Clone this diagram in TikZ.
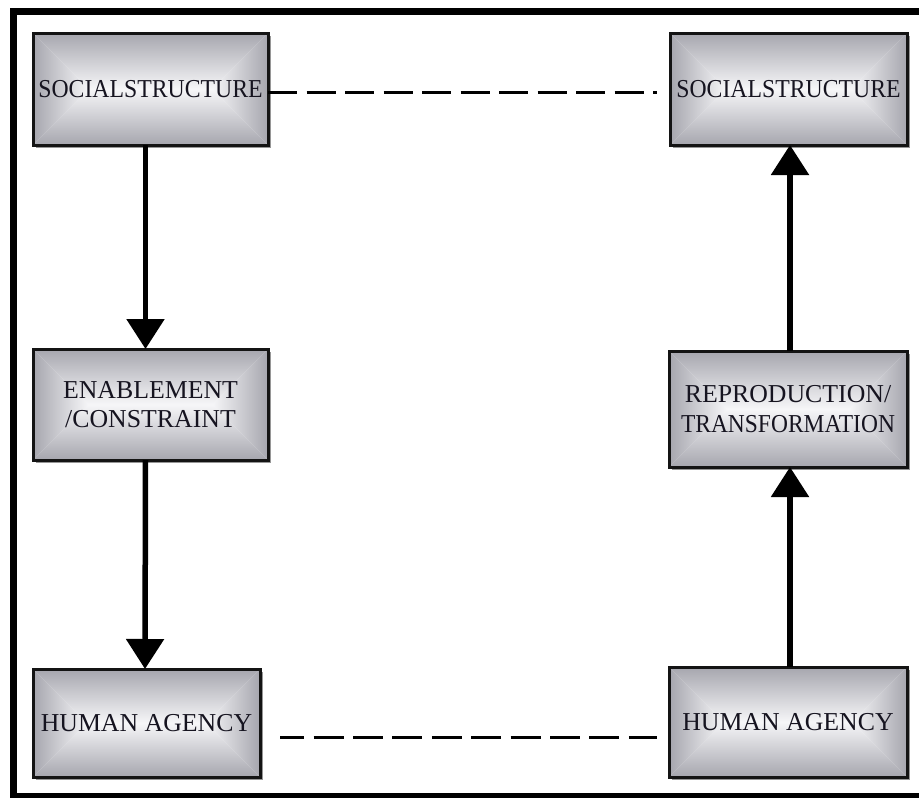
\documentclass[tikz,border=0pt]{standalone}
\usepackage{fontspec}
\setmainfont{Liberation Serif}
\usetikzlibrary{arrows.meta,calc,backgrounds}

\definecolor{boxedge}{RGB}{166,166,174}
\definecolor{boxmid}{RGB}{246,246,248}
\definecolor{boxline}{RGB}{20,20,20}
\definecolor{boxshadow}{RGB}{150,150,150}
\definecolor{labelink}{RGB}{22,20,32}

\tikzset{
  stagebox/.style={draw=boxline, line width=3pt, inner sep=0pt, outer sep=0pt,
    align=center, text=labelink, font=\fontsize{25.8}{29.5}\selectfont},
  flowarrow/.style={line width=5.5pt, -{Triangle[width=37pt,length=30pt]}},
  linkdash/.style={line width=3pt},
  frameline/.style={line width=7pt},
}

\begin{document}
\begin{tikzpicture}[x=1pt,y=-1pt]
  \useasboundingbox (0,0) rectangle (919,798);
  \clip (0,0) rectangle (919,798);

  % outer frame (its right side runs off the page)
  \draw[frameline] (13,11) rectangle (940,796);

  % the six stages
  \node[stagebox, minimum width=235pt, minimum height=112pt] (ssL) at (150.5,89)
    {\scalebox{0.92}[1]{SOCIALSTRUCTURE}};
  \node[stagebox, minimum width=237pt, minimum height=112pt] (ssR) at (788.5,89)
    {\scalebox{0.92}[1]{SOCIALSTRUCTURE}};
  \node[stagebox, minimum width=235pt, minimum height=111pt] (ec) at (150.5,404.5)
    {ENABLEMENT\\/CONSTRAINT};
  \node[stagebox, minimum width=238pt, minimum height=116pt] (rt) at (788,409)
    {REPRODUCTION/\\\scalebox{0.91}[1]{TRANSFORMATION}};
  \node[stagebox, minimum width=227pt, minimum height=108pt] (haL) at (146.5,723)
    {HUMAN AGENCY};
  \node[stagebox, minimum width=238pt, minimum height=110pt] (haR) at (788,722)
    {HUMAN AGENCY};

  % drop shadow and pyramid shading behind every stage
  \begin{pgfonlayer}{background}
    \foreach \nd in {ssL,ssR,ec,rt,haL,haR}{
      \fill[boxshadow] ([shift={(3pt,-3pt)}]\nd.north west) rectangle ([shift={(3pt,-3pt)}]\nd.south east);
      \fill[boxmid] (\nd.north west) rectangle (\nd.south east);
      \shade[top color=boxedge, bottom color=boxmid]
        let \p1=(\nd.north west), \p2=(\nd.south east), \n1={(\y1-\y2)/2} in
        (\x1,\y1) -- (\x2,\y1) -- (\x2-\n1,\y1-\n1) -- (\x1+\n1,\y1-\n1) -- cycle;
      \shade[top color=boxmid, bottom color=boxedge]
        let \p1=(\nd.north west), \p2=(\nd.south east), \n1={(\y1-\y2)/2} in
        (\x1,\y2) -- (\x2,\y2) -- (\x2-\n1,\y2+\n1) -- (\x1+\n1,\y2+\n1) -- cycle;
      \shade[left color=boxedge, right color=boxmid]
        let \p1=(\nd.north west), \p2=(\nd.south east), \n1={(\y1-\y2)/2} in
        (\x1,\y1) -- (\x1+\n1,\y1-\n1) -- (\x1,\y2) -- cycle;
      \shade[left color=boxmid, right color=boxedge]
        let \p1=(\nd.north west), \p2=(\nd.south east), \n1={(\y1-\y2)/2} in
        (\x2,\y1) -- (\x2-\n1,\y1-\n1) -- (\x2,\y2) -- cycle;
    }
  \end{pgfonlayer}

  % causal arrows
  \draw[flowarrow] ([xshift=-5pt]ssL.south) -- ([xshift=-5pt]ec.north);
  \draw[flowarrow] ([xshift=-5pt]ec.south) -- ([xshift=-1.5pt]haL.north);
  \draw[flowarrow] ([xshift=2pt]haR.north) -- ([xshift=2pt]rt.south);
  \draw[flowarrow] ([xshift=2pt]rt.north) -- ([xshift=1.5pt]ssR.south);

  % dashed links between the two columns
  \coordinate (topEnd) at (657,92);
  \coordinate (botStart) at (280,737);
  \coordinate (botEnd) at (657,737);
  \draw[linkdash, dash pattern=on 29pt off 9.5pt] (ssL.east |- topEnd) -- (topEnd);
  \draw[linkdash, dash pattern=on 30pt off 9.4pt, dash phase=5.8pt] (botStart) -- (botEnd);
\end{tikzpicture}
\end{document}
